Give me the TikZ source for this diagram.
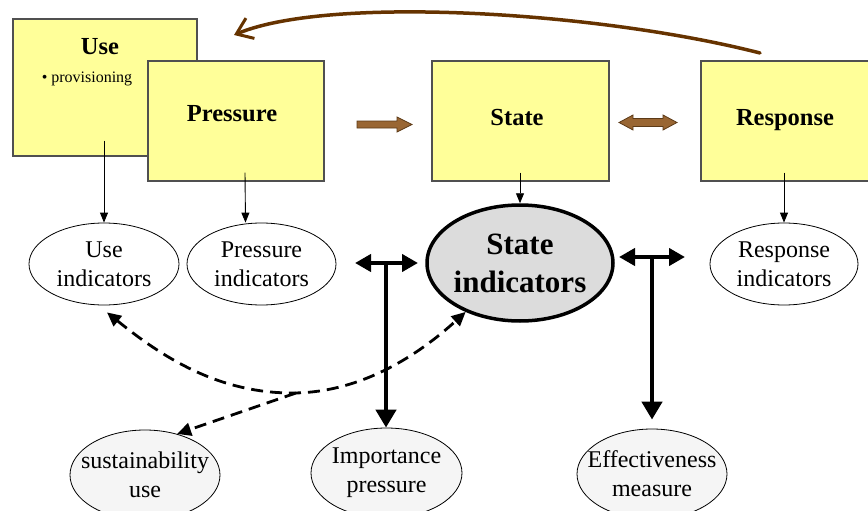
\documentclass[tikz,border=0pt]{standalone}
\usepackage{fontspec}
\setmainfont{Liberation Serif}
\usetikzlibrary{arrows.meta,shapes.geometric}
\definecolor{boxyellow}{HTML}{FFFF99}
\definecolor{boxline}{HTML}{505050}
\definecolor{blockbrown}{HTML}{996633}
\definecolor{blockedge}{HTML}{5C3A17}
\definecolor{curvebrown}{HTML}{663300}
\definecolor{stategray}{HTML}{DCDCDC}
\definecolor{lightfill}{HTML}{F5F5F5}
\begin{document}
\begin{tikzpicture}[x=1pt,y=-1pt,
  ybox/.style={rectangle,draw=boxline,line width=1.1pt,fill=boxyellow,inner sep=0pt},
  titletxt/.style={font=\bfseries\fontsize{24.5}{29}\selectfont,anchor=base,inner sep=0pt},
  indell/.style={ellipse,draw=black,line width=0.8pt,fill=white,inner xsep=-40pt,inner ysep=-12pt,
    align=center,font=\fontsize{24}{29}\selectfont,minimum width=150pt,minimum height=82pt},
  lowell/.style={indell,fill=lightfill,minimum height=90pt},
  thinarr/.style={draw=black,line width=0.9pt,-{Triangle[length=10pt,width=8pt]}},
  dasharr/.style={draw=black,line width=2.8pt,dash pattern=on 12pt off 7pt},
  thickline/.style={draw=black,line width=4.5pt},
  blockarr/.style={fill=blockbrown,draw=blockedge,line width=0.8pt,line join=miter}
]
\useasboundingbox (0,0) rectangle (868,511);
\clip (0,0) rectangle (868,511);

% boxes
\node[ybox,minimum width=184pt,minimum height=137pt] (ub) at (105,87.5) {};
\node[ybox,minimum width=176pt,minimum height=120pt] (pb) at (236,121) {};
\node[ybox,minimum width=177pt,minimum height=120pt] (sb) at (520.5,121) {};
\node[ybox,minimum width=176pt,minimum height=120pt] (rb) at (789,121) {};

\node[titletxt] (ut) at (100,55) {Use};
\node[anchor=base,inner sep=0pt,font=\fontsize{16}{19}\selectfont] (upt) at (87,82) {• provisioning};
\node[titletxt] (pt) at (232,121.5) {Pressure};
\node[titletxt] (st) at (517,125) {State};
\node[titletxt] (rt) at (785,125) {Response};

% indicator ellipses
\node[indell] (ui) at (104,264) {Use\\indicators};
\node[indell,minimum width=149pt] (pi) at (261.5,264) {Pressure\\indicators};
\node[indell,minimum width=148pt] (ri) at (784,264) {Response\\indicators};
\node[ellipse,draw=black,line width=3.5pt,fill=stategray,inner xsep=-40pt,inner ysep=-12pt,align=center,
      font=\bfseries\fontsize{31}{38}\selectfont,minimum width=186pt,minimum height=116pt]
      (si) at (520,263) {State\\indicators};

% lower ellipses
\node[lowell] (su) at (145,475) {sustainability\\use};
\node[lowell,minimum width=151pt] (im) at (386.5,473) {Importance\\pressure};
\node[lowell] (ef) at (652,474) {Effectiveness\\measure};

% thin arrows from boxes to indicators
\draw[thinarr] ([yshift=16pt]ub.south -| ui.north) -- (ui.north);
\draw[thinarr] ([xshift=9pt,yshift=9pt]pb.south) -- ([xshift=-16pt]pi.north);
\draw[thinarr] ([yshift=9pt]sb.south -| si.north) -- (si.north);
\draw[thinarr] ([yshift=9pt]rb.south -| ri.north) -- (ri.north);

% block arrows
\filldraw[blockarr] (357,121) -- (397,121) -- (397,117) -- (412,124.5) -- (397,132) -- (397,128) -- (357,128) -- cycle;
\filldraw[blockarr] (619,122.5) -- (633,115) -- (633,118.5) -- (663,118.5) -- (663,115) -- (677,122.5)
  -- (663,130) -- (663,126.5) -- (633,126.5) -- (633,130) -- cycle;

% curved feedback arrow
\coordinate (cs) at (760,53);
\coordinate (ce) at (234,35);
\draw[curvebrown,line width=3.5pt,line cap=round,-{Straight Barb[length=15pt,width=22pt,line width=3pt]}]
  (cs) .. controls (600,12) and (330,-5) .. (ce);

% T arrows
\coordinate (tl1) at (355,263);
\coordinate (tl2) at (418,263);
\coordinate (tlm) at (386,263);
\draw[thickline,{Triangle[length=16pt,width=17pt]}-{Triangle[length=16pt,width=17pt]}] (tl1) -- (tl2);
\draw[thickline,-{Triangle[length=18pt,width=20pt]}] (tlm) -- (tlm |- im.north);
\coordinate (tr1) at (619,257);
\coordinate (tr2) at (685,257);
\coordinate (trm) at (652,257);
\draw[thickline,{Triangle[length=16pt,width=17pt]}-{Triangle[length=16pt,width=17pt]}] (tr1) -- (tr2);
\draw[thickline,-{Triangle[length=18pt,width=20pt]}] (trm) -- ([yshift=9pt]ef.north);

% dashed arrows
\coordinate (bt) at (292,393);
\coordinate (br) at (296,393);
\draw[dasharr,{Triangle[length=14pt,width=13pt]}-{Triangle[length=14pt,width=13pt]}]
  ([xshift=3pt,yshift=-7pt]ui.south) .. controls (161,356) and (217,393) .. (bt)
  .. controls (367,393) and (426,348) .. (si.222);
\draw[dasharr,-{Triangle[length=14pt,width=13pt]}] (br) -- (su.52);
\end{tikzpicture}
\end{document}
